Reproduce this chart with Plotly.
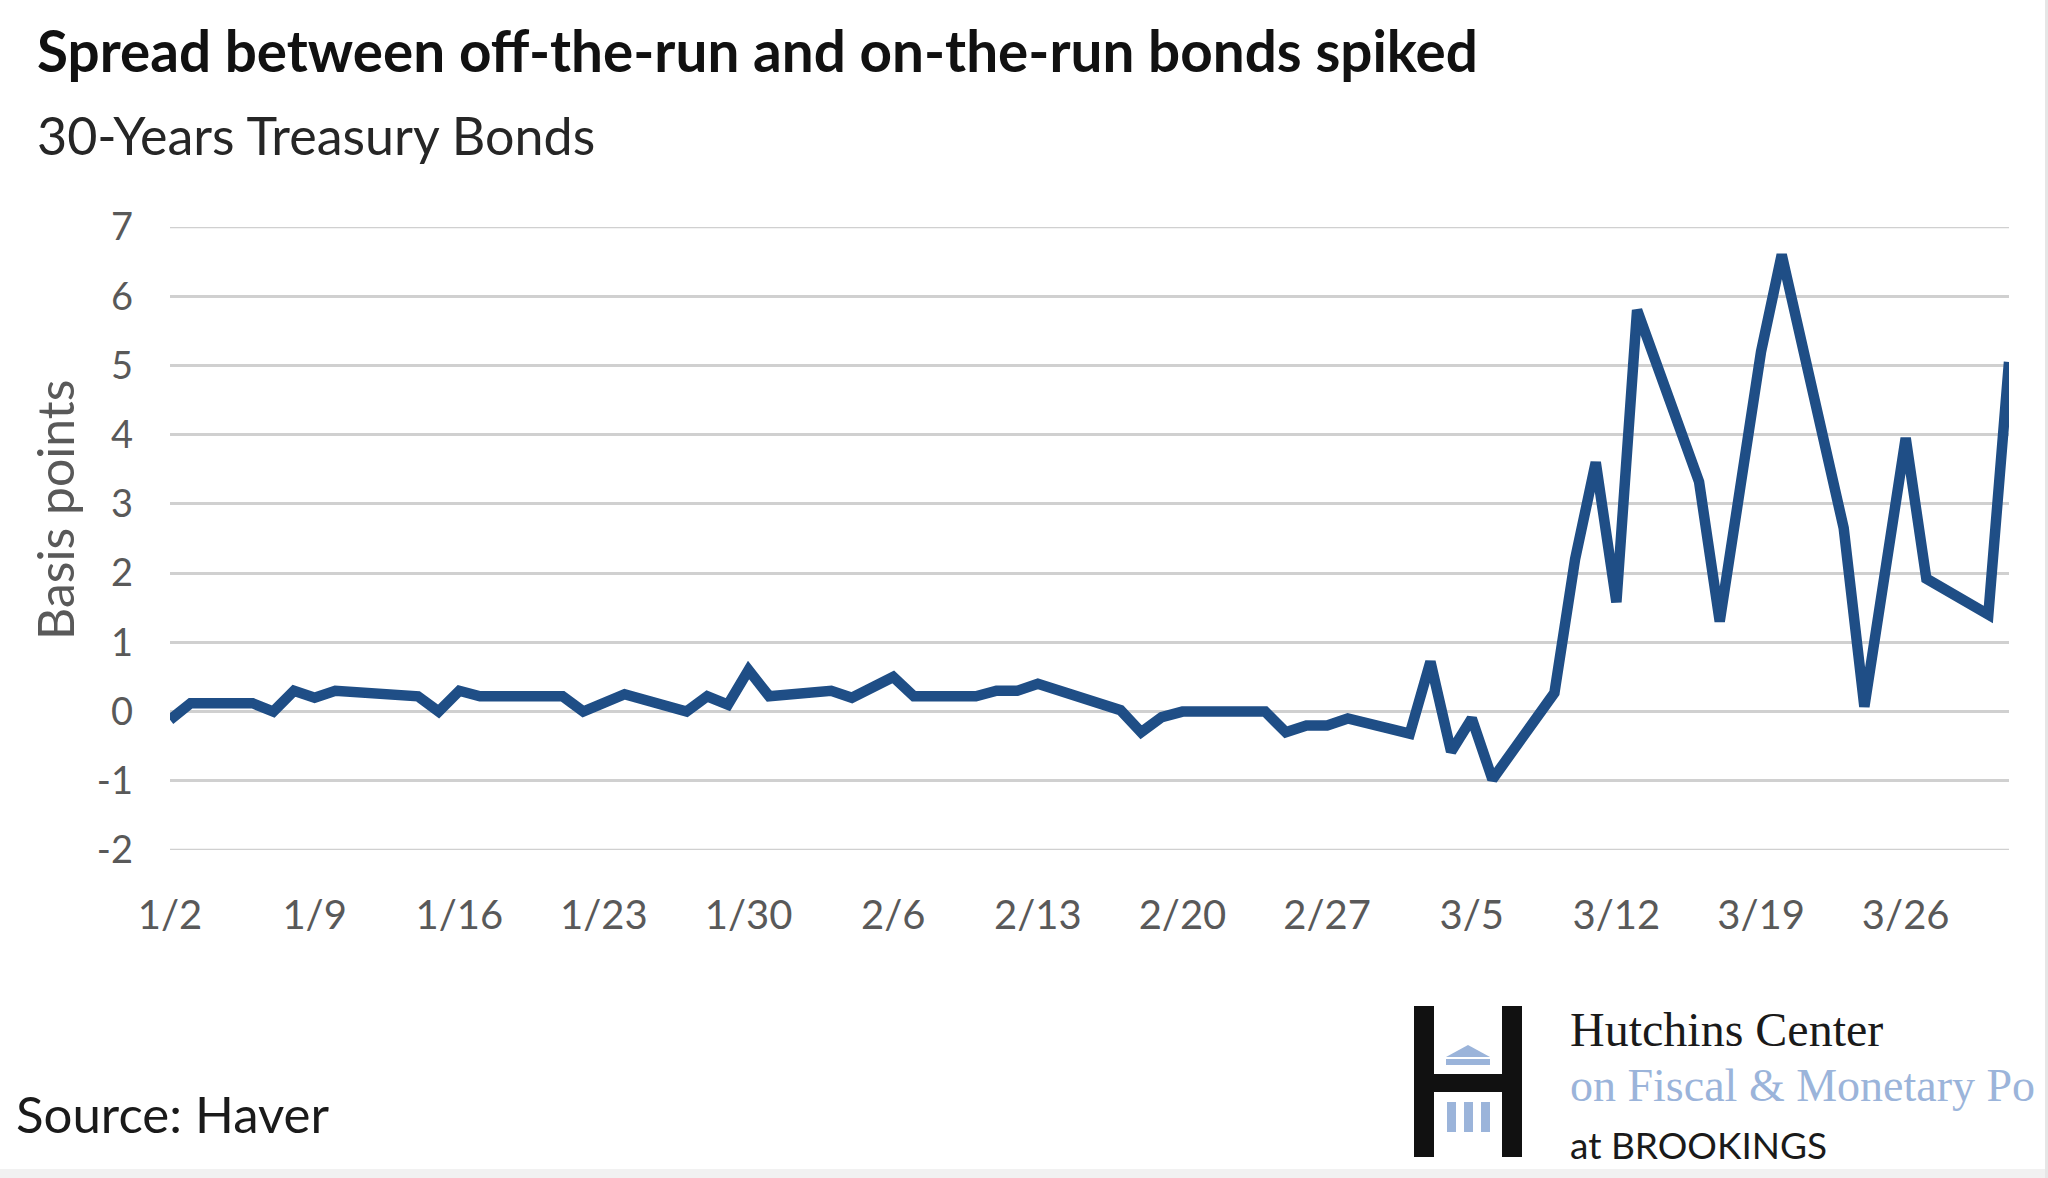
import plotly.graph_objects as go

# ---------------- data ----------------
dates = [
    "2020-01-02", "2020-01-03", "2020-01-06", "2020-01-07", "2020-01-08", "2020-01-09", "2020-01-10",
    "2020-01-13", "2020-01-14", "2020-01-15", "2020-01-16", "2020-01-17",
    "2020-01-20", "2020-01-21", "2020-01-22", "2020-01-23", "2020-01-24",
    "2020-01-27", "2020-01-28", "2020-01-29", "2020-01-30", "2020-01-31",
    "2020-02-03", "2020-02-04", "2020-02-05", "2020-02-06", "2020-02-07",
    "2020-02-10", "2020-02-11", "2020-02-12", "2020-02-13", "2020-02-14",
    "2020-02-17", "2020-02-18", "2020-02-19", "2020-02-20", "2020-02-21",
    "2020-02-24", "2020-02-25", "2020-02-26", "2020-02-27", "2020-02-28",
    "2020-03-02", "2020-03-03", "2020-03-04", "2020-03-05", "2020-03-06",
    "2020-03-09", "2020-03-10", "2020-03-11", "2020-03-12", "2020-03-13",
    "2020-03-16", "2020-03-17", "2020-03-18", "2020-03-19", "2020-03-20",
    "2020-03-23", "2020-03-24", "2020-03-25", "2020-03-26", "2020-03-27",
    "2020-03-30", "2020-03-31",
]
spread_bp = [
    -0.12, 0.12, 0.12, 0.00, 0.30, 0.20, 0.30,
    0.25, 0.22, 0.00, 0.30, 0.22,
    0.22, 0.22, 0.00, 0.12, 0.25,
    0.00, 0.22, 0.10, 0.60, 0.22,
    0.30, 0.20, 0.35, 0.50, 0.22,
    0.22, 0.30, 0.30, 0.40, 0.30,
    0.02, -0.30, -0.08, 0.00, 0.00,
    0.00, -0.30, -0.20, -0.20, -0.10,
    -0.32, 0.72, -0.58, -0.10, -0.98,
    0.27, 2.20, 3.60, 1.58, 5.80,
    3.32, 1.30, 3.25, 5.20, 6.60,
    2.65, 0.07, 2.00, 3.95, 1.92,
    1.40, 5.05,
]
tick_dates = ["2020-01-02", "2020-01-09", "2020-01-16", "2020-01-23", "2020-01-30",
              "2020-02-06", "2020-02-13", "2020-02-20", "2020-02-27", "2020-03-05",
              "2020-03-12", "2020-03-19", "2020-03-26"]
tick_labels = ["1/2", "1/9", "1/16", "1/23", "1/30", "2/6", "2/13", "2/20", "2/27",
               "3/5", "3/12", "3/19", "3/26"]
y_ticks = [-2, -1, 0, 1, 2, 3, 4, 5, 6, 7]
y_tick_labels = ["-2", "-1", "0", "1", "2", "3", "4", "5", "6", "7"]

title_text = "Spread between off-the-run and on-the-run bonds spiked"
subtitle_text = "30-Years Treasury Bonds"
y_title = "Basis points"
source_text = "Source: Haver"
logo_line1 = "Hutchins Center"
logo_line2 = "on Fiscal &amp; Monetary Po"
logo_line3 = "at BROOKINGS"

# ---------------- layout geometry ----------------
W, H = 2048, 1178
L, R, T, B = 170, 2009, 227, 850
PW, PH = R - L, B - T


def px(x):
    return (x - L) / PW


def py(y):
    return (B - y) / PH


FONT = "Lato"
TICK_GRAY = "#595959"
LINE_COLOR = "#1F4E86"
LOGO_BLUE = "#9BB4DA"
GRID = "#d0d0d0"

fig = go.Figure()
fig.add_trace(go.Scatter(
    x=dates, y=spread_bp, mode="lines",
    line=dict(color=LINE_COLOR, width=10.5),
    showlegend=False, hoverinfo="x+y",
))

annotations = [
    dict(text="<b>" + title_text + "</b>", x=px(35), y=py(50), xanchor="left", yanchor="middle",
         font=dict(family=FONT, size=56.6, color="#111111")),
    dict(text=subtitle_text, x=px(35), y=py(135), xanchor="left", yanchor="middle",
         font=dict(family=FONT, size=52, color="#262626")),
    dict(text=y_title, x=px(55), y=py(510), xanchor="center", yanchor="middle", textangle=-90,
         font=dict(family=FONT, size=50, color=TICK_GRAY)),
    dict(text=source_text, x=px(14), y=py(1113), xanchor="left", yanchor="middle",
         font=dict(family=FONT, size=51, color="#1a1a1a")),
    dict(text=logo_line1, x=px(1568), y=py(1029), xanchor="left", yanchor="middle",
         font=dict(family="Liberation Serif", size=48, color="#1a1a1a")),
    dict(text=logo_line2, x=px(1568), y=py(1085), xanchor="left", yanchor="middle",
         font=dict(family="Liberation Serif", size=46, color=LOGO_BLUE)),
    dict(text=logo_line3, x=px(1568), y=py(1144), xanchor="left", yanchor="middle",
         font=dict(family=FONT, size=37, color="#1a1a1a")),
]
for a in annotations:
    a.update(xref="paper", yref="paper", showarrow=False)

shapes = []


def rect(x0, y0, x1, y1, color, layer="above"):
    shapes.append(dict(type="rect", xref="paper", yref="paper",
                       x0=px(x0), x1=px(x1), y0=py(y1), y1=py(y0),
                       fillcolor=color, line=dict(width=0), layer=layer))


# logo "H"
rect(1414, 1006, 1434, 1157, "#111111")
rect(1502, 1006, 1522, 1157, "#111111")
rect(1434, 1074, 1502, 1092, "#111111")
# pediment
shapes.append(dict(type="path", xref="paper", yref="paper",
                   path="M {} {} L {} {} L {} {} Z".format(px(1446), py(1057), px(1468), py(1045),
                                                           px(1490), py(1057)),
                   fillcolor=LOGO_BLUE, line=dict(width=0), layer="above"))
rect(1446, 1059, 1490, 1065, LOGO_BLUE)
# columns
rect(1447, 1102, 1456, 1132, LOGO_BLUE)
rect(1464, 1102, 1473, 1132, LOGO_BLUE)
rect(1481, 1102, 1490, 1132, LOGO_BLUE)
# faint frame edges of the original screenshot
rect(0, 1169, 2048, 1178, "#f1f1f1")
rect(2045, 0, 2048, 1178, "#e6e6e6")

# boundary gridlines (top and bottom of the value range)
for v in (y_ticks[0], y_ticks[-1]):
    shapes.append(dict(type="line", xref="paper", yref="y", x0=0, x1=1, y0=v, y1=v,
                       line=dict(color=GRID, width=2.5), layer="below"))

fig.update_layout(
    width=W, height=H,
    margin=dict(l=L, r=W - R, t=T, b=H - B, pad=0),
    paper_bgcolor="white", plot_bgcolor="white",
    font=dict(family=FONT, color=TICK_GRAY),
    annotations=annotations,
    shapes=shapes,
    xaxis=dict(
        type="date", range=["2020-01-02", "2020-03-31"],
        tickmode="array", tickvals=tick_dates, ticktext=tick_labels,
        showgrid=False, zeroline=False, showline=False,
        ticks="", ticklabelstandoff=38,
        tickfont=dict(family=FONT, size=40, color=TICK_GRAY),
        fixedrange=True,
    ),
    yaxis=dict(
        range=[y_ticks[0], y_ticks[-1]], tickmode="array", tickvals=y_ticks, ticktext=y_tick_labels,
        showgrid=True, gridcolor=GRID, gridwidth=2.5,
        zeroline=False, showline=False, ticks="", ticklabelstandoff=36,
        tickfont=dict(family=FONT, size=38, color=TICK_GRAY),
        fixedrange=True,
    ),
)

fig.write_html("out.html")
